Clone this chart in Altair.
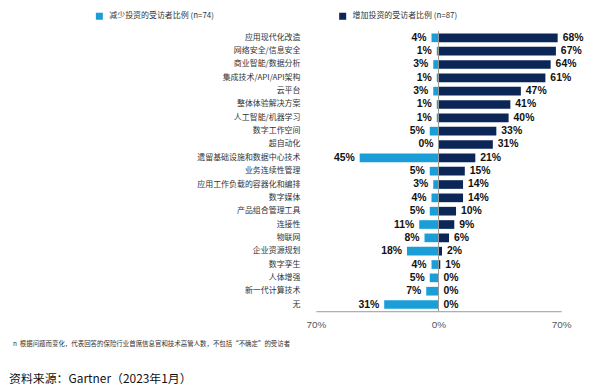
import altair as alt
import pandas as pd

categories = [
    "应用现代化改造", "网络安全/信息安全", "商业智能/数据分析", "集成技术/API/API架构",
    "云平台", "整体体验解决方案", "人工智能/机器学习", "数字工作空间", "超自动化",
    "遗留基础设施和数据中心技术", "业务连续性管理", "应用工作负载的容器化和编排",
    "数字媒体", "产品组合管理工具", "连接性", "物联网", "企业资源规划", "数字孪生",
    "人体增强", "新一代计算技术", "无",
]
decrease = [4, 1, 3, 1, 3, 1, 1, 5, 0, 45, 5, 3, 4, 5, 11, 8, 18, 4, 5, 7, 31]
increase = [68, 67, 64, 61, 47, 41, 40, 33, 31, 21, 15, 14, 14, 10, 9, 6, 2, 1, 0, 0, 0]
series = ["减少投资的受访者比例 (n=74)", "增加投资的受访者比例 (n=87)"]
colors = ["#1b9ed8", "#0b2657"]
x_ticks = [-70, 0, 70]
footnote = "n\u00a0\u00a0根据问题而变化，代表回答的保险行业首席信息官和技术高管人数，不包括“不确定”的受访者"
source = "资料来源：Gartner（2023年1月）"

rows = []
for c, d, i in zip(categories, decrease, increase):
    rows.append({"cat": c, "series": series[0], "val": d, "x": -d, "label": f"{d}%"})
    rows.append({"cat": c, "series": series[1], "val": i, "x": i, "label": f"{i}%"})
df = pd.DataFrame(rows)

W, H = 247, 282
FONT = "Noto Sans CJK SC"
NUMFONT = "Liberation Sans"

xscale = alt.Scale(domain=[-70, 70], nice=False, zero=False)
yscale = alt.Scale(paddingInner=0.35, paddingOuter=0.175)
yenc = alt.Y("cat:N", sort=categories, scale=yscale,
             axis=alt.Axis(title=None, domain=False, ticks=False, labelPadding=16,
                           labelFont=FONT, labelFontSize=8, labelColor="#333333"))

base = alt.Chart(df)

bars = base.mark_bar().encode(
    x=alt.X("x:Q", scale=xscale,
            axis=alt.Axis(title=None, values=x_ticks, grid=False, ticks=False,
                          domainColor="#999999", labelFlush=False, labelPadding=8,
                          labelExpr="abs(datum.value) + '%'", labelFont=NUMFONT,
                          labelFontSize=10, labelColor="#555555")),
    x2=alt.datum(0),
    y=yenc,
    color=alt.Color("series:N", scale=alt.Scale(domain=series, range=colors),
                    legend=alt.Legend(title=None, orient="none", legendX=-222, legendY=-19,
                                      direction="horizontal", symbolType="square",
                                      symbolSize=50, symbolStrokeWidth=0,
                                      labelFont=FONT, labelFontSize=8, labelColor="#333333",
                                      columnPadding=125, labelOffset=6)),
)

left_labels = base.transform_filter(alt.datum.series == series[0]).mark_text(
    align="right", baseline="middle", dx=-5, font=NUMFONT, fontSize=10.5,
    fontWeight="bold", color="#111111"
).encode(x=alt.X("x:Q", scale=xscale), y=alt.Y("cat:N", sort=categories, scale=yscale), text="label:N")

right_labels = base.transform_filter(alt.datum.series == series[1]).mark_text(
    align="left", baseline="middle", dx=5, font=NUMFONT, fontSize=10.5,
    fontWeight="bold", color="#111111"
).encode(x=alt.X("x:Q", scale=xscale), y=alt.Y("cat:N", sort=categories, scale=yscale), text="label:N")

zero_rule = alt.Chart(pd.DataFrame({"z": [0]})).mark_rule(color="#999999", strokeWidth=1).encode(
    x=alt.X("z:Q", scale=xscale), y=alt.value(0), y2=alt.value(H)
)

foot = alt.Chart(pd.DataFrame({"t": [footnote]})).mark_text(
    align="left", baseline="middle", font=FONT, fontSize=6.5, color="#333333"
).encode(text="t:N", x=alt.value(-305), y=alt.value(315))

src = alt.Chart(pd.DataFrame({"t": [source]})).mark_text(
    align="left", baseline="alphabetic", font=FONT, fontSize=12, color="#111111"
).encode(text="t:N", x=alt.value(-309), y=alt.value(354))

chart = alt.layer(bars, zero_rule, left_labels, right_labels, foot, src).properties(
    width=W, height=H,
    autosize=alt.AutoSizeParams(type="none"),
    padding={"left": 310, "top": 22, "right": 24, "bottom": 74},
).configure_view(stroke=None)

chart.save("out.html", embed_options={"renderer": "svg", "actions": False})
